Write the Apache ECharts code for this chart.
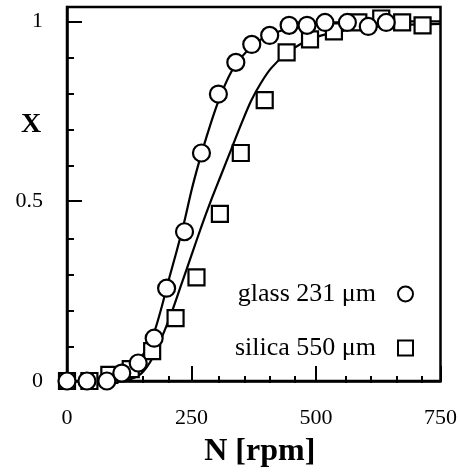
<!DOCTYPE html>
<html><head><meta charset="utf-8">
<script src="https://cdn.jsdelivr.net/npm/echarts@6/dist/echarts.min.js"></script>
<style>html,body{margin:0;padding:0;background:#fff}#c{width:460px;height:473px}</style>
</head><body><div id="c"></div>
<script>
// tick positions
const xMajorTicks = [0, 250, 500, 750];
const xMinorTicks = [50, 100, 150, 200, 300, 350, 400, 450, 550, 600, 650, 700];
const yMajorTicks = [0, 0.5, 1];
const yMinorTicks = [0.1, 0.2, 0.3, 0.4, 0.6, 0.7, 0.8, 0.9];

// measured points
const glassN = [0, 40, 80, 110, 143, 175, 200, 236, 270, 304, 339, 371, 407, 446, 482, 518, 563, 605, 641];
const glassX = [0, 0, 0, 0.022, 0.05, 0.119, 0.258, 0.415, 0.634, 0.798, 0.886, 0.936, 0.961, 0.989, 0.989, 0.997, 0.997, 0.986, 0.997];
const silicaN = [0, 45, 85, 128, 171, 218, 260, 307, 349, 397, 441, 488, 536, 585, 631, 673, 714];
const silicaX = [0, 0, 0.017, 0.033, 0.083, 0.175, 0.288, 0.465, 0.634, 0.781, 0.914, 0.95, 0.972, 0.997, 1.008, 0.997, 0.989];

// fitted curves
const glassCurveN = [70, 100, 120, 140, 160, 175, 190, 205, 220, 235, 250, 265, 280, 295, 310, 330, 350, 375, 400, 440, 480, 540, 620, 750];
const glassCurveX = [0, 0.008, 0.022, 0.048, 0.09, 0.135, 0.205, 0.285, 0.36, 0.44, 0.53, 0.608, 0.678, 0.743, 0.8, 0.86, 0.9, 0.935, 0.958, 0.978, 0.99, 0.997, 1.0, 1.0];
const silicaCurveN = [110, 130, 150, 170, 190, 210, 230, 250, 270, 290, 310, 330, 350, 370, 390, 410, 440, 470, 500, 540, 590, 650, 750];
const silicaCurveX = [0, 0.006, 0.022, 0.06, 0.12, 0.19, 0.27, 0.35, 0.43, 0.505, 0.575, 0.645, 0.715, 0.78, 0.83, 0.87, 0.91, 0.938, 0.956, 0.97, 0.982, 0.989, 0.993];

const seriesNames = ['glass 231 μm', 'silica 550 μm'];

const FONT = "'Liberation Serif','Times New Roman',serif";
const zip = (a, b) => a.map((v, i) => [v, b[i]]);

const gridPos = { left: 67, right: 13, top: 7, bottom: 90 };
const chart = echarts.init(document.getElementById('c'), null, { renderer: 'canvas' });

const lineStyle = { color: '#000', width: 2.5 };
chart.setOption({
  animation: false,
  backgroundColor: '#fff',
  grid: [
    Object.assign({ show: true, borderColor: '#000', borderWidth: 2.5, backgroundColor: 'transparent' }, gridPos),
    Object.assign({ show: false }, gridPos)
  ],
  xAxis: [
    {
      type: 'value', gridIndex: 0, min: 0, max: 750, position: 'bottom',
      axisLine: { show: true, onZero: false, lineStyle },
      axisTick: { show: true, inside: true, length: 15, customValues: xMajorTicks, lineStyle: { color: '#000', width: 2 } },
      axisLabel: { show: true, customValues: xMajorTicks, margin: 26, color: '#000', fontSize: 22, fontFamily: FONT },
      splitLine: { show: false },
      name: 'N [rpm]', nameLocation: 'middle', nameGap: 55,
      nameTextStyle: { color: '#000', fontSize: 32, fontWeight: 'bold', fontFamily: FONT, padding: [0, 0, 0, 12] }
    },
    {
      type: 'value', gridIndex: 1, min: 0, max: 750, position: 'bottom',
      axisLine: { show: false },
      axisTick: { show: true, inside: true, length: 7, customValues: xMinorTicks, lineStyle: { color: '#000', width: 2 } },
      axisLabel: { show: false },
      splitLine: { show: false }
    }
  ],
  yAxis: [
    {
      type: 'value', gridIndex: 0, min: 0, max: 1.04, position: 'left',
      axisLine: { show: true, onZero: false, lineStyle },
      axisTick: { show: true, inside: true, length: 15, customValues: yMajorTicks, lineStyle: { color: '#000', width: 2 } },
      axisLabel: { show: true, customValues: yMajorTicks, margin: 24, color: '#000', fontSize: 22, fontFamily: FONT },
      splitLine: { show: false }
    },
    {
      type: 'value', gridIndex: 1, min: 0, max: 1.04, position: 'left',
      axisLine: { show: false },
      axisTick: { show: true, inside: true, length: 7, customValues: yMinorTicks, lineStyle: { color: '#000', width: 2 } },
      axisLabel: { show: false },
      splitLine: { show: false }
    }
  ],
  legend: {
    data: seriesNames,
    orient: 'vertical', align: 'right',
    right: 46, top: 281, padding: 0,
    itemWidth: 15, itemHeight: 15, itemGap: 28,
    textStyle: { color: '#000', fontSize: 26, fontFamily: FONT, padding: [0, 17, 0, 0] }
  },
  graphic: [
    { type: 'text', left: 21, top: 111, style: { text: 'X', fill: '#000', font: "bold 28px 'Liberation Serif','Times New Roman',serif" } }
  ],
  series: [
    { type: 'line', xAxisIndex: 0, yAxisIndex: 0, data: zip(glassCurveN, glassCurveX), showSymbol: false, smooth: 0.3, lineStyle: { color: '#000', width: 2.2 }, silent: true, z: 2 },
    { type: 'line', xAxisIndex: 0, yAxisIndex: 0, data: zip(silicaCurveN, silicaCurveX), showSymbol: false, smooth: 0.3, lineStyle: { color: '#000', width: 2.2 }, silent: true, z: 2 },
    { name: seriesNames[1], type: 'scatter', xAxisIndex: 0, yAxisIndex: 0, data: zip(silicaN, silicaX), symbol: 'rect', symbolSize: 16,
      itemStyle: { color: '#fff', borderColor: '#000', borderWidth: 2.2, opacity: 1 }, z: 3 },
    { name: seriesNames[0], type: 'scatter', xAxisIndex: 0, yAxisIndex: 0, data: zip(glassN, glassX), symbol: 'circle', symbolSize: 17,
      itemStyle: { color: '#fff', borderColor: '#000', borderWidth: 2.2, opacity: 1 }, z: 4 }
  ]
});
</script>
</body></html>
